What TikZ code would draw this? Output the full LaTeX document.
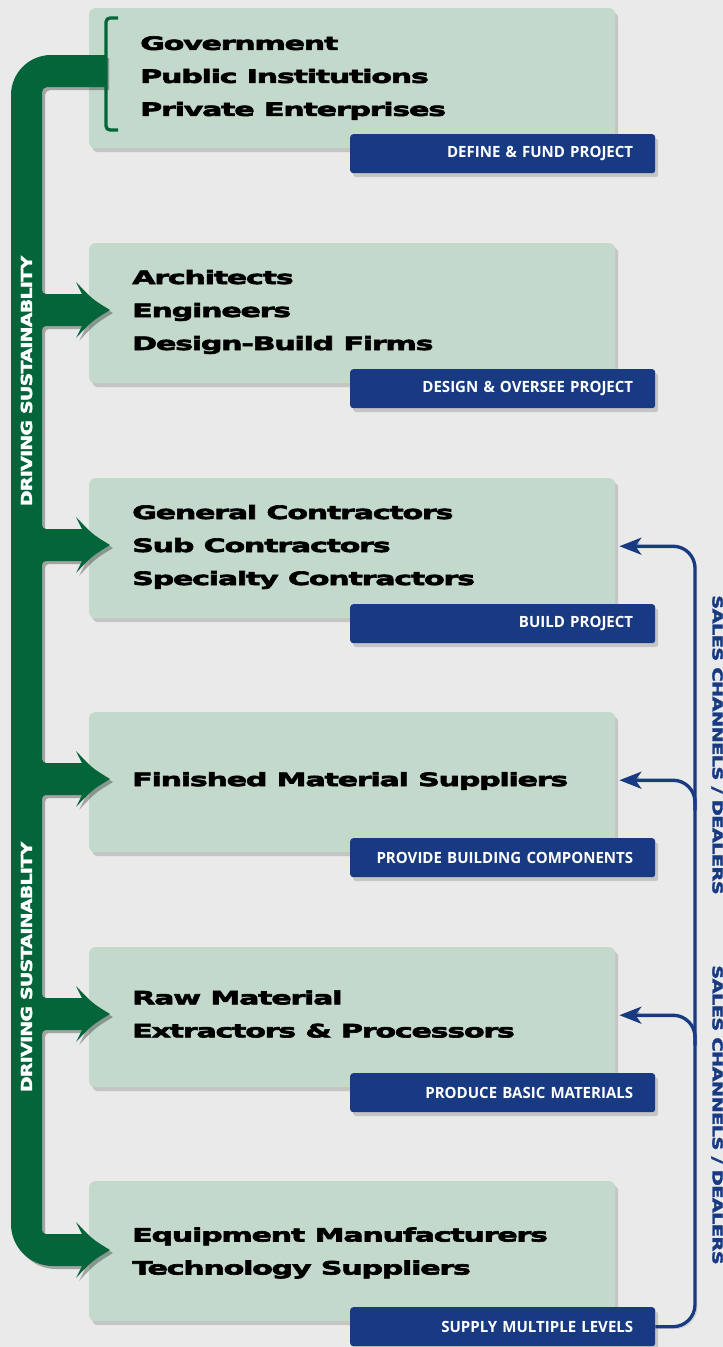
\documentclass[tikz,border=0pt]{standalone}
\usepackage{fontspec}
\usetikzlibrary{shadows,arrows.meta}
\newfontfamily\extfont[FakeStretch=1.64,FakeBold=3.4,LetterSpace=-7]{DejaVu Sans}
\newfontfamily\extfontB[FakeStretch=1.26,FakeBold=2.6,LetterSpace=-5]{DejaVu Sans}
\newfontfamily\extfontC[FakeStretch=1.42,FakeBold=2.6,LetterSpace=-5]{DejaVu Sans}
\newfontfamily\lblfont[FakeStretch=0.97]{Open Sans}
\definecolor{bg}{HTML}{EAEAEA}
\definecolor{boxgreen}{HTML}{C3D9CC}
\definecolor{trunkgreen}{HTML}{05653A}
\definecolor{navy}{HTML}{173A82}
\tikzset{
  greenbox/.style={fill=boxgreen, rounded corners=6pt, minimum width=526pt, minimum height=140pt,
    inner sep=0pt, anchor=north west, drop shadow={shadow xshift=3pt,shadow yshift=-4pt,opacity=.35}},
  labelbox/.style={fill=navy, rounded corners=3pt, minimum width=305pt, minimum height=39pt,
    inner xsep=22pt, inner ysep=0pt, text width=261pt, align=right, text=white,
    font=\lblfont\bfseries\fontsize{15.5}{18}\selectfont, anchor=north west,
    drop shadow={shadow xshift=3pt,shadow yshift=-4pt,opacity=.35}},
  maintext/.style={anchor=west, align=left, inner sep=0pt, text=black,
    font=\extfont\bfseries\fontsize{18.4}{33}\selectfont},
  trunktext/.style={rotate=90, inner sep=0pt, text=white, font=\extfontB\bfseries\fontsize{15.1}{18}\selectfont},
  salestext/.style={rotate=-90, inner sep=0pt, text=navy, font=\extfontC\bfseries\fontsize{13.7}{16}\selectfont},
  bline/.style={draw=navy, line width=3.3pt, rounded corners=22pt,
    -{Stealth[length=22pt,width=17pt,inset=6pt]},
    preaction={draw=black, opacity=.22, transform canvas={shift={(2pt,-2pt)}}}},
  garrow/.style={insert path={
    -- (42,#1-20) .. controls (42,#1-17.8) and (43.8,#1-16) .. (46,#1-16)
    -- (82,#1-16) -- (76,#1-28) .. controls (92,#1-11) .. (110,#1)
    .. controls (92,#1+11) .. (76,#1+28) -- (82,#1+16) -- (46,#1+16)
    .. controls (43.8,#1+16) and (42,#1+17.8) .. (42,#1+20)}}
}
\newcommand\drawtrunk[1]{%
  \fill[#1] (11,95) .. controls (11,73) and (29,55) .. (51,55) -- (106,55) -- (106,87) -- (47,87)
    .. controls (44.2,87) and (42,89.8) .. (42,92)
    [garrow=310] [garrow=545] [garrow=779] [garrow=1014]
    -- (42,1230) .. controls (42,1232.2) and (43.8,1234) .. (46,1234) -- (82,1234) -- (76,1222)
    .. controls (92,1239) .. (110,1250) .. controls (92,1261) .. (76,1278) -- (82,1266) -- (53,1266)
    .. controls (29.8,1266) and (11,1247.2) .. (11,1224) -- cycle;}
\begin{document}
\begin{tikzpicture}[x=1pt,y=-1pt]
\useasboundingbox (0,0) rectangle (723,1347);
\fill[bg] (0,0) rectangle (723,1347);
% green boxes
\node[greenbox] (b1) at (89,8) {};
\node[greenbox] (b2) at (89,243) {};
\node[greenbox] (b3) at (89,478) {};
\node[greenbox] (b4) at (89,712) {};
\node[greenbox] (b5) at (89,947) {};
\node[greenbox] (b6) at (89,1181) {};
% labels
\node[labelbox] (l1) at (350,134) {DEFINE \& FUND PROJECT};
\node[labelbox] (l2) at (350,369) {DESIGN \& OVERSEE PROJECT};
\node[labelbox] (l3) at (350,604) {BUILD PROJECT};
\node[labelbox] (l4) at (350,838) {PROVIDE BUILDING COMPONENTS};
\node[labelbox] (l5) at (350,1073) {PRODUCE BASIC MATERIALS};
\node[labelbox] (l6) at (350,1307) {SUPPLY MULTIPLE LEVELS};
% green trunk
\drawtrunk{black,opacity=.3,shift={(3,3)}}
\drawtrunk{trunkgreen}
% bracket
\draw[trunkgreen, line width=3.3pt, rounded corners=4pt] (118,18) -- (106,18) -- (106,130) -- (118,130);
% texts
\node[maintext] (t1) at (140,78) {Government\\Public Institutions\\Private Enterprises};
\node[maintext] (t2) at (132,312) {Architects\\Engineers\\Design-Build Firms};
\node[maintext] (t3) at (132,547) {General Contractors\\Sub Contractors\\Specialty Contractors};
\node[maintext] (t4) at (132,781) {Finished Material Suppliers};
\node[maintext] (t5) at (132,1014) {Raw Material\\Extractors \& Processors};
\node[maintext] (t6) at (132,1253) {Equipment Manufacturers\\Technology Suppliers};
\node[trunktext] (d1) at (26.5,381) {DRIVING SUSTAINABLITY};
\node[trunktext] (d2) at (26.5,967) {DRIVING SUSTAINABLITY};
\node[salestext] (s1) at (717,745) {SALES CHANNELS / DEALERS};
\node[salestext] (s2) at (717,1115) {SALES CHANNELS / DEALERS};
% blue connectors
\coordinate (vline) at (695,0);
\coordinate (r3) at ([yshift=2pt]b3.east);
\coordinate (r4) at ([yshift=2pt]b4.east);
\coordinate (r5) at ([yshift=2pt]b5.east);
\draw[bline] (l6.east) -- (l6.east -| vline) -- (r3 -| vline) -- ([xshift=4pt]r3);
\draw[bline] (r4 -| vline) ++(0,30) -- (r4 -| vline) -- ([xshift=4pt]r4);
\draw[bline] (r5 -| vline) ++(0,30) -- (r5 -| vline) -- ([xshift=4pt]r5);
\end{tikzpicture}
\end{document}
